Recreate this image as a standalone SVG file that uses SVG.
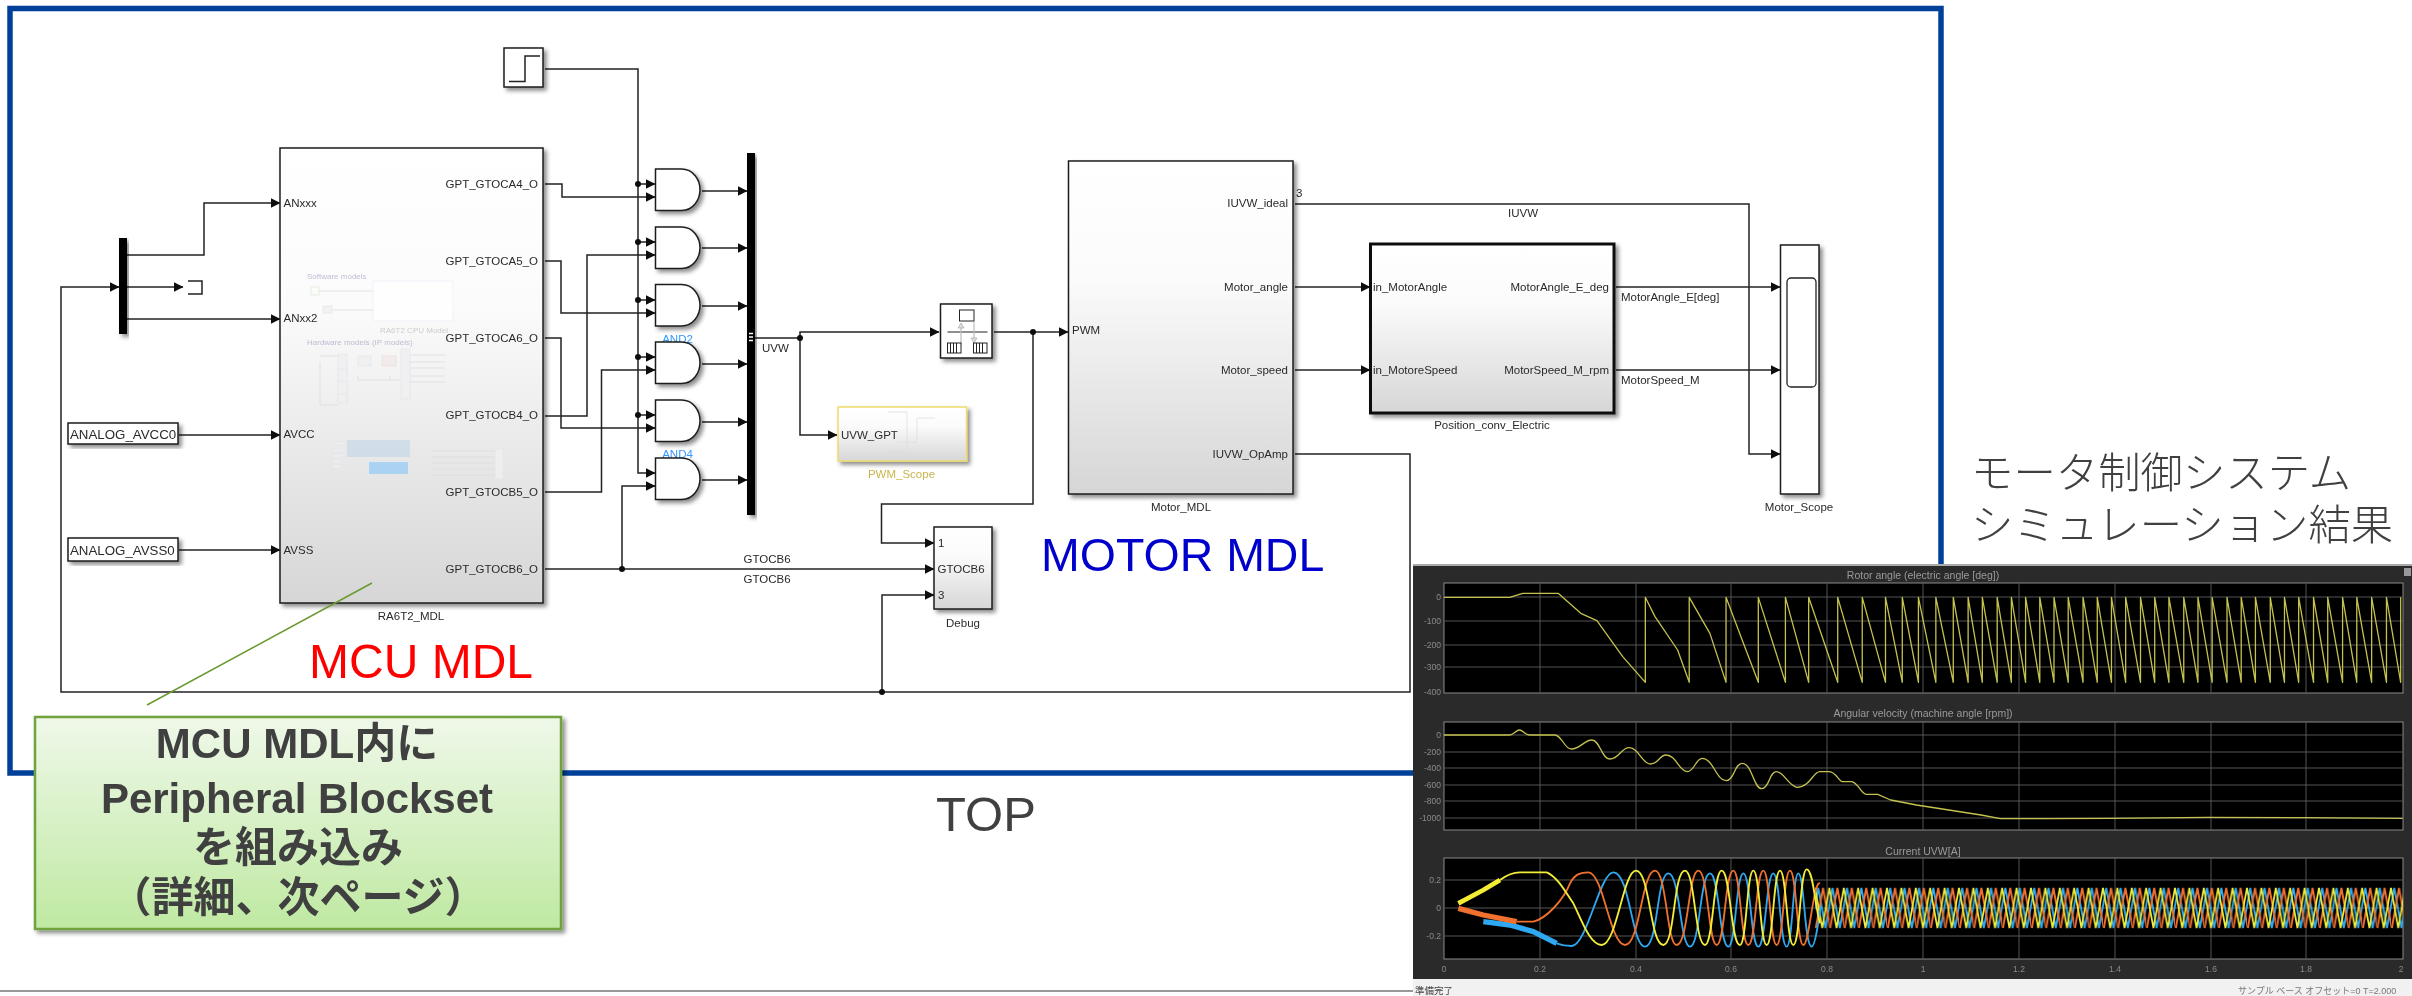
<svg xmlns="http://www.w3.org/2000/svg" xmlns:xlink="http://www.w3.org/1999/xlink" width="2412" height="996" viewBox="0 0 2412 996">
<style>
text{font-family:"Liberation Sans","Noto Sans CJK JP",Arial,sans-serif;fill:#2a2a2a}
.t{font-size:11.5px}
.r{text-anchor:end}
.m{text-anchor:middle}
.w{fill:none;stroke:#222;stroke-width:1.5;stroke-linejoin:miter}
.wa{marker-end:url(#arr)}
.d{fill:#111}
.b{fill:url(#blk);stroke:#1e1e1e;stroke-width:1.5;filter:url(#sh)}
.wb{fill:#fff;stroke:#1e1e1e;stroke-width:1.5;filter:url(#sh)}
.big{font-size:46.5px}
.jp{font-family:"Noto Sans CJK JP","Liberation Sans",sans-serif;font-size:42.4px;font-weight:300;fill:#404040}
.cal{font-size:42px;font-weight:bold;fill:#404040;text-anchor:middle}
.g{fill:none;stroke:#555;stroke-width:1}
.ax{font-size:8.5px;fill:#8a8a8a;text-anchor:end}
.axx{font-size:8.5px;fill:#8a8a8a;text-anchor:middle}
.ti{font-size:10.5px;fill:#9a9a9a;text-anchor:middle}
.gh{fill:#f0f0f2;stroke:#e6e6ea;stroke-width:1}
.gl{fill:none;stroke:#dcdce0;stroke-width:1}
.ns{vector-effect:non-scaling-stroke;fill:none;stroke:#c4c24e;stroke-width:1.3;stroke-linejoin:round}
</style>
<defs>
<marker id="arr" markerUnits="userSpaceOnUse" markerWidth="10" markerHeight="10" refX="9" refY="4.8" orient="auto"><path d="M0,0L9.5,4.8L0,9.6Z" fill="#111"/></marker>
<linearGradient id="blk" x1="0" y1="0" x2="0" y2="1"><stop offset="0" stop-color="#fff"/><stop offset=".35" stop-color="#fbfbfb"/><stop offset="1" stop-color="#d6d6d6"/></linearGradient>
<linearGradient id="grn" x1="0" y1="0" x2="0" y2="1"><stop offset="0" stop-color="#eff8e9"/><stop offset="1" stop-color="#bfe9a2"/></linearGradient>
<filter id="sh" x="-20%" y="-20%" width="140%" height="140%"><feDropShadow dx="3" dy="3" stdDeviation="2" flood-color="#000" flood-opacity=".45"/></filter>
<filter id="sft" filterUnits="userSpaceOnUse" x="0" y="0" width="2412" height="996"><feGaussianBlur stdDeviation=".6"/></filter>
<filter id="soft" filterUnits="userSpaceOnUse" x="0" y="0" width="2412" height="996"><feGaussianBlur stdDeviation=".4"/></filter>
<path id="and" d="M0,0H26C38,0 44.500,11 44.500,20.800C44.500,30.500 38,41.500 26,41.500H0Z" fill="#fff" stroke="#1e1e1e" stroke-width="1.500" filter="url(#sh)"/>
<pattern id="steady" patternUnits="userSpaceOnUse" x="1815" y="878" width="14.4" height="60">
<polyline points="-7.200,50 0,10 7.200,50 14.400,10 21.600,50" fill="none" stroke="#2fa8f0" stroke-width="1.900" transform="translate(3.200,0)"/>
<polyline points="-7.200,50 0,10 7.200,50 14.400,10 21.600,50" fill="none" stroke="#f0702f" stroke-width="1.900" transform="translate(8,0)"/>
<polyline points="-7.200,50 0,10 7.200,50 14.400,10 21.600,50" fill="none" stroke="#f3ee36" stroke-width="1.700"/>
</pattern>
</defs>
<rect width="2412" height="996" fill="#fff"/>
<g filter="url(#soft)">
<rect id="frame" x="10" y="8.500" width="1931" height="764.500" fill="none" stroke="#004098" stroke-width="5.500"/>
<line x1="0" y1="991" x2="1413" y2="991" stroke="#777" stroke-width="1.500"/>
<g id="connectors">
<path class="w wa" d="M545,69H638V473H655"/>
<path class="w wa" d="M638,184H655"/><path class="w wa" d="M638,242H655"/><path class="w wa" d="M638,300H655"/><path class="w wa" d="M638,357H655"/><path class="w wa" d="M638,415H655"/>
<path class="w wa" d="M545,184H562V197H655"/>
<path class="w wa" d="M545,261H561V313H655"/>
<path class="w wa" d="M545,338H561V428H655"/>
<path class="w wa" d="M545,416H587V255H655"/>
<path class="w wa" d="M545,492H601.500V370H655"/>
<path class="w wa" d="M622,569V486H655"/>
<path class="w wa" d="M545,569H934"/>
<path class="w wa" d="M702,191H747"/><path class="w wa" d="M702,248H747"/><path class="w wa" d="M702,306H747"/><path class="w wa" d="M702,364H747"/><path class="w wa" d="M702,422H747"/><path class="w wa" d="M702,480H747"/>
<path class="w wa" d="M755,338H800V332H939"/>
<path class="w wa" d="M800,338V435H837"/>
<path class="w wa" d="M994,332H1068"/>
<path class="w wa" d="M1033,332V504H881.500V543H934"/>
<path class="w wa" d="M1295,204H1749V454H1780"/>
<path class="w wa" d="M1295,287H1370"/><path class="w wa" d="M1295,370H1370"/>
<path class="w wa" d="M1616,287H1780"/><path class="w wa" d="M1616,370H1780"/>
<path class="w wa" d="M1295,454H1410V692H61V287H119"/>
<path class="w wa" d="M882,692V595H934"/>
<path class="w wa" d="M127,255H204V203H280"/>
<path class="w wa" d="M127,287H183"/>
<path class="w wa" d="M127,319H280"/>
<path class="w wa" d="M179,435H280"/>
<path class="w wa" d="M179,550H280"/>
<g class="d"><circle cx="638" cy="184" r="3"/><circle cx="638" cy="242" r="3"/><circle cx="638" cy="300" r="3"/><circle cx="638" cy="357" r="3"/><circle cx="638" cy="415" r="3"/><circle cx="622" cy="569" r="3"/><circle cx="800" cy="338" r="3"/><circle cx="1033" cy="332" r="3"/><circle cx="882" cy="692" r="3"/></g>
<text class="t m" x="767" y="563">GTOCB6</text>
<text class="t m" x="767" y="583">GTOCB6</text>
<text class="t" x="762" y="352">UVW</text>
<text class="t" x="1296" y="197">3</text>
<text class="t m" x="1523" y="217">IUVW</text>
<text class="t" x="1621" y="301">MotorAngle_E[deg]</text>
<text class="t" x="1621" y="384">MotorSpeed_M</text>
</g>
<g id="step"><rect class="wb" x="504" y="48" width="39" height="39"/><path d="M509,81.500H525V56H540" fill="none" stroke="#222" stroke-width="1.500"/></g>
<g id="demux"><rect x="119" y="238" width="8" height="96" fill="#000" filter="url(#sh)"/></g>
<g id="terminator"><path d="M188,281H202V294H188" fill="none" stroke="#222" stroke-width="1.500"/></g>
<g id="avcc"><rect class="wb" x="68" y="423" width="110" height="21"/><text x="70" y="439" font-size="13.300">ANALOG_AVCC0</text></g>
<g id="avss"><rect class="wb" x="68" y="538" width="110" height="23"/><text x="70" y="555" font-size="13.300">ANALOG_AVSS0</text></g>
<g id="mcu">
<rect class="b" x="280" y="148" width="263" height="455"/>
<g opacity=".8">
<text x="307" y="279" font-size="8px" style="fill:#b3acc9">Software models</text>
<rect x="373" y="281" width="80" height="40" fill="#fff" stroke="#eeeefa"/>
<rect x="311" y="287" width="8" height="8" fill="none" stroke="#dcecd8"/><path class="gl" d="M319,291H373M328,310H373"/>
<rect x="323" y="306" width="9" height="7" class="gh"/>
<text x="380" y="333" font-size="8px" style="fill:#c2c2c2">RA6T2 CPU Model</text>
<text x="307" y="345" font-size="8px" style="fill:#b3acc9">Hardware models (IP models)</text>
<rect class="gh" x="338" y="354" width="9" height="22"/><rect class="gh" x="338" y="369" width="9" height="20"/><rect class="gh" x="338" y="381" width="9" height="20"/><rect class="gh" x="338" y="394" width="9" height="9"/>
<rect class="gh" x="358" y="356" width="13" height="10"/><rect x="382" y="356" width="14" height="10" fill="#f2eaea" stroke="#ecdcdc"/>
<rect class="gh" x="401" y="349" width="9" height="50"/>
<path class="gl" d="M320,356H338M320,362V405H338M410,355H445M410,362H445M410,368H445M410,376H445M410,382H445M358,380H400M358,376V380M390,376V380"/>
<rect x="347" y="440" width="63" height="17" fill="#cbdbe8"/>
<rect x="333" y="442" width="11" height="3" class="gh"/><rect x="333" y="449" width="11" height="3" class="gh"/><rect x="333" y="454" width="11" height="3" class="gh"/><rect x="333" y="460" width="9" height="3" class="gh"/><rect x="333" y="465" width="9" height="3" class="gh"/>
<rect x="369" y="462" width="39" height="12" fill="#9ccff6"/>
<path class="gl" d="M432,451H495M432,457H495M432,463H495M432,469H495M432,475H495"/>
<rect class="gh" x="495" y="449" width="8" height="30"/>
</g>
<text class="t" x="283.500" y="207">ANxxx</text>
<text class="t" x="283.500" y="322">ANxx2</text>
<text class="t" x="283.500" y="438">AVCC</text>
<text class="t" x="283.500" y="554">AVSS</text>
<text class="t r" x="538" y="188">GPT_GTOCA4_O</text>
<text class="t r" x="538" y="265">GPT_GTOCA5_O</text>
<text class="t r" x="538" y="342">GPT_GTOCA6_O</text>
<text class="t r" x="538" y="419">GPT_GTOCB4_O</text>
<text class="t r" x="538" y="496">GPT_GTOCB5_O</text>
<text class="t r" x="538" y="573">GPT_GTOCB6_O</text>
<text class="t m" x="411" y="620">RA6T2_MDL</text>
</g>
<g id="and1"><use href="#and" x="655.500" y="169"/></g>
<g id="and2"><use href="#and" x="655.500" y="227"/></g>
<g id="and3"><use href="#and" x="655.500" y="284.500"/><text class="t m" x="677.500" y="343" style="fill:#3399ff">AND2</text></g>
<g id="and4"><use href="#and" x="655.500" y="342"/></g>
<g id="and5"><use href="#and" x="655.500" y="400"/><text class="t m" x="677.500" y="458" style="fill:#3399ff">AND4</text></g>
<g id="and6"><use href="#and" x="655.500" y="458"/></g>
<g id="mux"><rect x="747" y="153" width="8" height="362" fill="#000" filter="url(#sh)"/><path d="M749,333.500H753M749,337H753M749,340.500H753" stroke="#fff" stroke-width="1.500"/></g>
<g id="rate">
<rect class="wb" x="940.500" y="304" width="51.500" height="54"/>
<rect x="959.500" y="310" width="14.500" height="11" fill="#fff" stroke="#222"/>
<path d="M947.500,332H987.500" stroke="#222" stroke-width="1.200"/>
<path d="M961,345V326M974,322V340" stroke="#bbb" stroke-width="1.200"/><path d="M958,328L961,323L964,328ZM971,338L974,343L977,338Z" fill="#ddd" stroke="#aaa" stroke-width=".7"/>
<rect x="947.500" y="343" width="13.500" height="10" fill="#fff" stroke="#222"/><path d="M950.500,343V353M953.500,343V353M956.500,343V353" stroke="#222"/>
<rect x="973.500" y="343" width="13.500" height="10" fill="#fff" stroke="#222"/><path d="M976.500,343V353M979.500,343V353M982.500,343V353" stroke="#222"/>
</g>
<g id="pwm-scope">
<rect x="838" y="407" width="128.500" height="54" fill="url(#blk)" stroke="#eedc6c" stroke-width="1.500" filter="url(#sh)"/>
<path class="gl" d="M888,412H907V452H888M917,441V418H935M897,442H917" opacity=".7"/>
<text class="t" x="841" y="439">UVW_GPT</text>
<text class="t m" x="901.500" y="478" style="fill:#c9b64e">PWM_Scope</text>
</g>
<g id="debug">
<rect class="b" x="934" y="527" width="58" height="82"/>
<text class="t" x="938" y="547">1</text><text class="t" x="937.500" y="573">GTOCB6</text><text class="t" x="938" y="599">3</text>
<text class="t m" x="963" y="627">Debug</text>
</g>
<g id="motor">
<rect class="b" x="1068.500" y="161" width="224.500" height="333"/>
<text class="t" x="1072" y="334">PWM</text>
<text class="t r" x="1288" y="207">IUVW_ideal</text>
<text class="t r" x="1288" y="291">Motor_angle</text>
<text class="t r" x="1288" y="374">Motor_speed</text>
<text class="t r" x="1288" y="458">IUVW_OpAmp</text>
<text class="t m" x="1181" y="511">Motor_MDL</text>
</g>
<g id="position">
<rect x="1370.500" y="244" width="243.500" height="169" fill="url(#blk)" stroke="#111" stroke-width="3" filter="url(#sh)"/>
<text class="t" x="1373" y="291">in_MotorAngle</text>
<text class="t" x="1373" y="374">in_MotoreSpeed</text>
<text class="t r" x="1609" y="291">MotorAngle_E_deg</text>
<text class="t r" x="1609" y="374">MotorSpeed_M_rpm</text>
<text class="t m" x="1492" y="429">Position_conv_Electric</text>
</g>
<g id="scope">
<rect class="wb" x="1780.500" y="245" width="38.500" height="249"/>
<rect x="1787" y="278" width="29" height="109" rx="4" fill="#fff" stroke="#222" stroke-width="1.300"/>
<text class="t m" x="1799" y="511">Motor_Scope</text>
</g>
<text x="421" y="678" text-anchor="middle" font-size="48" style="fill:#ff0000">MCU MDL</text>
<text class="big" x="1041" y="571" style="fill:#0000cc">MOTOR MDL</text>
<text x="986" y="831" text-anchor="middle" font-size="49" style="fill:#404040">TOP</text>
<g id="callout">
<line x1="372" y1="583" x2="147" y2="705" stroke="#6a9a30" stroke-width="1.500"/>
<rect x="35" y="717" width="526" height="212" fill="url(#grn)" stroke="#6fa23c" stroke-width="2.500" filter="url(#sh)"/>
<text class="cal" x="297" y="758">MCU MDL内に</text>
<text class="cal" x="297" y="813">Peripheral Blockset</text>
<text class="cal" x="298" y="862">を組み込み</text>
<text class="cal" x="298" y="912">（詳細、次ページ）</text>
</g>
<g id="result-title">
<text class="jp" x="1971" y="488">モータ制御システム</text>
<text class="jp" x="1971" y="540">シミュレーション結果</text>
</g>
</g>
<g id="scope-window">
<g filter="url(#sft)">
<rect x="1413" y="565" width="999" height="431" fill="#2b2b2b"/>
<rect x="1413" y="564" width="999" height="2" fill="#aaa"/>
<rect x="1444" y="583" width="959" height="110" fill="#000" stroke="#8a8a8a"/>
<rect x="1444" y="722" width="959" height="108" fill="#000" stroke="#8a8a8a"/>
<rect x="1444" y="858" width="959" height="101" fill="#000" stroke="#8a8a8a"/>
<path class="g" d="M1444,597H2403M1444,621H2403M1444,645H2403M1444,667H2403M1444,735H2403M1444,752H2403M1444,768H2403M1444,785H2403M1444,801H2403M1444,818H2403M1444,880H2403M1444,908H2403M1444,936H2403"/>
<path class="g" d="M1540,583V693M1636,583V693M1731,583V693M1827,583V693M1923,583V693M2019,583V693M2115,583V693M2211,583V693M2306,583V693M1540,722V830M1636,722V830M1731,722V830M1827,722V830M1923,722V830M2019,722V830M2115,722V830M2211,722V830M2306,722V830M1540,858V959M1636,858V959M1731,858V959M1827,858V959M1923,858V959M2019,858V959M2115,858V959M2211,858V959M2306,858V959"/>
<g transform="translate(1400,550) scale(.6456,.33333)">
<path class="ns" d="M68,142H170L190,130H245L280,190L305,212L345,320L380,397V142L395,200L430,300L448,397V142L480,250L505,397V142L530,270L555,397V142L597,397V142L633,397V142L678,397V142L716,397V142L752,397V142L778,397V142L803,397V142L830,397V142L857,397V142L880,397V142L902,397V142L925,397V142L947,397V142L969,397V142L991,397V142L1013,397V142L1035,397V142L1058,397V142L1080,397V142L1102,397V142L1124,397V142L1147,397V142L1169,397V142L1191,397V142L1214,397V142L1236,397V142L1258,397V142L1281,397V142L1303,397V142L1325,397V142L1348,397V142L1370,397V142L1392,397V142L1415,397V142L1437,397V142L1460,397V142L1482,397V142L1505,397V142L1528,397V142L1550,397V142"/>
<path class="ns" d="M68,555H170C176,555 180,540 185,540C190,540 194,555 200,555H240C250,555 255,597 265,597C280,597 285,570 297,570C310,570 312,627 325,627C340,627 342,593 355,593C370,593 375,642 388,642C400,642 402,615 412,615C428,615 432,665 445,665C456,665 458,625 468,625C485,625 490,692 505,692C518,692 518,640 530,640C545,640 548,716 560,716C572,716 572,665 583,665C595,665 600,705 615,712C635,712 640,665 650,665H665C675,665 680,695 685,695H700C710,700 715,733 722,733H740L760,750L800,765L850,780L900,795L930,806H1000L1100,805L1250,802L1400,803L1553,805"/>
</g>
<rect x="1815" y="878" width="588" height="60" fill="url(#steady)"/>
<g transform="translate(1400,840) scale(.33333)" fill="none" stroke-width="5.500" stroke-linejoin="round">
<path d="M250,245L330,255L400,275L470,310" stroke="#2fa8f0" stroke-width="16"/>
<path d="M470,310C490,318 500,318 515,318C560,318 600,97 640,97C690,97 695,320 735,320C775,320 770,100 805,100C840,100 840,320 870,320C900,320 900,100 930,100C958,100 958,320 985,320C1008,320 1008,100 1030,100C1052,100 1052,320 1075,320C1098,320 1098,100 1120,100C1140,100 1140,320 1160,320C1178,320 1178,100 1195,100C1213,100 1213,320 1235,320C1245,320 1255,250 1262,200" stroke="#2fa8f0"/>
<path d="M175,205L250,225L350,245" stroke="#f0702f" stroke-width="16"/>
<path d="M350,245L400,245C440,235 490,180 510,130C525,100 545,97 565,97C610,97 630,315 675,315C720,315 725,92 765,92C800,92 800,315 830,315C865,315 865,92 895,92C925,92 925,315 950,315C975,315 975,92 1000,92C1022,92 1022,315 1045,315C1068,315 1068,92 1090,92C1110,92 1110,315 1130,315C1150,315 1150,92 1170,92C1190,92 1190,315 1210,315C1228,315 1240,120 1260,130" stroke="#f0702f"/>
<path d="M175,190L250,150L300,120" stroke="#f3ee36" stroke-width="14"/>
<path d="M300,120C320,105 340,97 360,97L440,97C470,110 490,145 520,190C545,240 570,315 605,315C650,315 670,92 708,92C750,92 750,315 790,315C825,315 820,92 855,92C885,92 885,315 915,315C940,315 940,92 965,92C992,92 992,315 1020,315C1040,315 1040,92 1060,92C1080,92 1080,315 1100,315C1120,315 1120,92 1140,92C1160,92 1160,315 1180,315C1200,315 1200,88 1220,88C1240,88 1245,200 1260,250" stroke="#f3ee36"/>
</g>
<rect x="1413" y="979" width="999" height="17" fill="#f1f1f1"/>
<rect x="2404" y="568" width="7" height="8" fill="#999"/>
<text class="ti" x="1923" y="579">Rotor angle (electric angle [deg])</text>
<text class="ti" x="1923" y="717">Angular velocity (machine angle [rpm])</text>
<text class="ti" x="1923" y="855">Current UVW[A]</text>
<text class="ax" x="1441" y="600">0</text><text class="ax" x="1441" y="624">-100</text><text class="ax" x="1441" y="648">-200</text><text class="ax" x="1441" y="670">-300</text><text class="ax" x="1441" y="695">-400</text>
<text class="ax" x="1441" y="738">0</text><text class="ax" x="1441" y="755">-200</text><text class="ax" x="1441" y="771">-400</text><text class="ax" x="1441" y="788">-600</text><text class="ax" x="1441" y="804">-800</text><text class="ax" x="1441" y="821">-1000</text>
<text class="ax" x="1441" y="883">0.2</text><text class="ax" x="1441" y="911">0</text><text class="ax" x="1441" y="939">-0.2</text>
<text class="axx" x="1444" y="972">0</text><text class="axx" x="1540" y="972">0.2</text><text class="axx" x="1636" y="972">0.4</text><text class="axx" x="1731" y="972">0.6</text><text class="axx" x="1827" y="972">0.8</text><text class="axx" x="1923" y="972">1</text><text class="axx" x="2019" y="972">1.2</text><text class="axx" x="2115" y="972">1.4</text><text class="axx" x="2211" y="972">1.6</text><text class="axx" x="2306" y="972">1.8</text><text class="axx" x="2401" y="972">2</text>
<text x="1415" y="994" font-size="9.500" style="fill:#444">準備完了</text>
<text x="2238" y="994" font-size="9" style="fill:#777">サンプル ベース  オフセット=0  T=2.000</text>
</g>
</g>
</svg>
